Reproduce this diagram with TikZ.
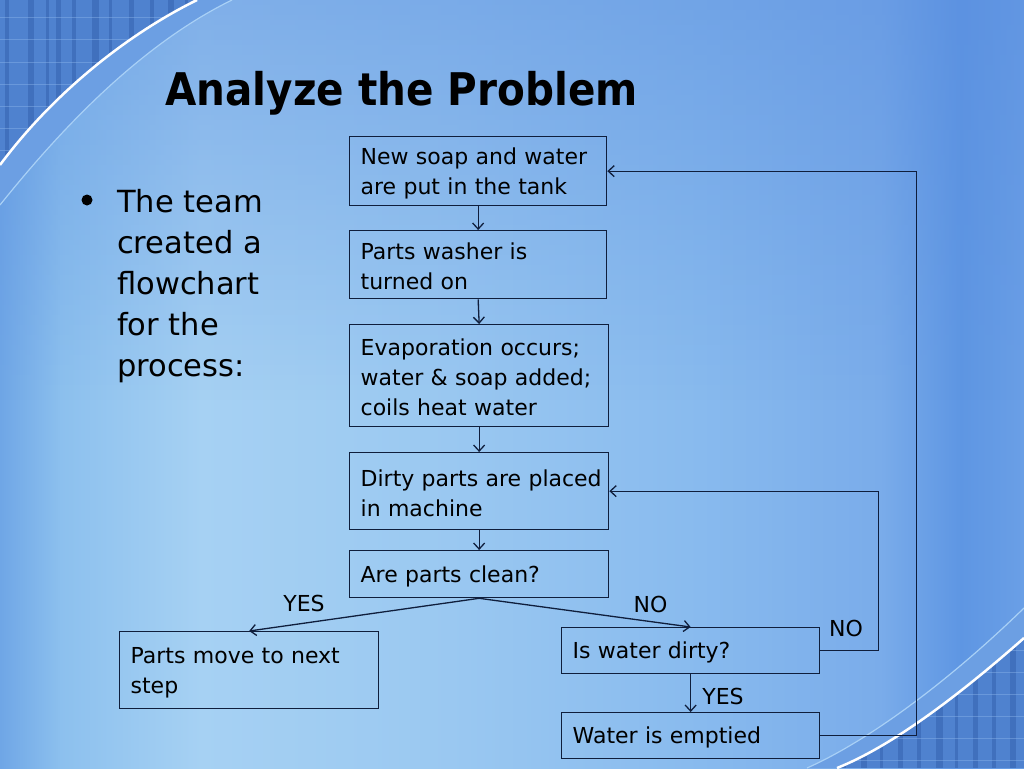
\documentclass[tikz,border=0pt]{standalone}
\usepackage{fontspec}
\usepackage{graphicx}
\setmainfont{DejaVu Sans}
\usetikzlibrary{arrows.meta,calc}
\definecolor{linec}{HTML}{0F1E3C}
\definecolor{g0}{HTML}{6FA6E6}
\definecolor{g1}{HTML}{8CC0EE}
\definecolor{g2}{HTML}{A6D1F3}
\definecolor{g3}{HTML}{9AC8F1}
\definecolor{g4}{HTML}{88BAEE}
\definecolor{g5}{HTML}{7AACEA}
\definecolor{g6}{HTML}{5E96E3}
\definecolor{g7}{HTML}{6A9FE6}
\definecolor{topdark}{HTML}{5A8EDF}
\definecolor{decobase}{HTML}{4F82CF}
\definecolor{stripec}{HTML}{2F5CA8}
\definecolor{gridc}{HTML}{8AB4EA}
\definecolor{bandc}{HTML}{6C9FE3}
\definecolor{edgec}{HTML}{A8D0F6}
\tikzset{
  box/.style={draw=linec, line width=1.3pt, rectangle, inner xsep=11pt, inner ysep=0pt,
    align=left, anchor=north west, font=\fontsize{22}{30}\selectfont, text=black,
    execute at begin node={\rule{0pt}{21pt}}},
  arr/.style={draw=linec, line width=1.3pt, -{Straight Barb[length=6pt,width=11pt]}},
  lbl/.style={font=\fontsize{22}{26}\selectfont, inner sep=0pt, text=black},
}
\begin{document}
\begin{tikzpicture}[x=1pt,y=-1pt]
\useasboundingbox (0,0) rectangle (1024,768);
% background
\shade[left color=g0, right color=g1] (0,0) rectangle (61,768);
\shade[left color=g1, right color=g2] (60,0) rectangle (201,768);
\shade[left color=g2, right color=g3] (200,0) rectangle (451,768);
\shade[left color=g3, right color=g4] (450,0) rectangle (701,768);
\shade[left color=g4, right color=g5] (700,0) rectangle (881,768);
\shade[left color=g5, right color=g6] (880,0) rectangle (961,768);
\shade[left color=g6, right color=g7] (960,0) rectangle (1024,768);
\foreach \i in {0,...,79} {
  \pgfmathsetmacro\op{0.5*(1-(\i+0.5)/80)}
  \fill[topdark, fill opacity=\op] (0,5*\i) rectangle (1024,5*\i+5);
}
% top-left decoration
\fill[bandc] (0,165) .. controls (48,100) and (120,38) .. (197,0) -- (232,0) .. controls (140,45) and (60,130) .. (0,205) -- cycle;
\begin{scope}
\clip (0,0) -- (197,0) .. controls (120,38) and (48,100) .. (0,165) -- cycle;
\fill[decobase] (0,0) rectangle (240,240);
\foreach \x/\w in {5/4,28/6,46/3,56/5,72/4,92/7,109/3,129/5,150/4,168/6,185/3}
  \fill[stripec, opacity=0.45] (\x,0) rectangle ++(\w,240);
\foreach \y in {18,40,62,84,106,128,150}
  \draw[gridc, opacity=0.45, line width=1pt] (0,\y) -- (240,\y);
\end{scope}
\draw[white, line width=2.5pt] (0,165) .. controls (48,100) and (120,38) .. (197,0);
\draw[edgec, line width=1.2pt] (0,205) .. controls (60,130) and (140,45) .. (232,0);
% bottom-right decoration
\fill[bandc] (807,768) .. controls (870,740) and (950,680) .. (1024,608) -- (1024,638) .. controls (965,690) and (895,745) .. (837,768) -- cycle;
\begin{scope}
\clip (837,768) .. controls (895,745) and (965,690) .. (1024,638) -- (1024,768) -- cycle;
\fill[decobase] (800,600) rectangle (1024,768);
\foreach \x/\w in {842/4,861/6,880/3,898/5,917/4,936/7,955/3,973/5,992/4,1010/6}
  \fill[stripec, opacity=0.45] (\x,600) rectangle ++(\w,168);
\foreach \y in {650,672,694,716,738,760}
  \draw[gridc, opacity=0.45, line width=1pt] (800,\y) -- (1024,\y);
\end{scope}
\draw[white, line width=2.5pt] (837,768) .. controls (895,745) and (965,690) .. (1024,638);
\draw[edgec, line width=1.2pt] (807,768) .. controls (870,740) and (950,680) .. (1024,608);
% title
\node[anchor=base west, inner sep=0pt, text=black] (title) at (165,105)
  {\scalebox{0.9}[1]{\fontsize{45}{50}\selectfont\bfseries Analyze the Problem}};
% bullet
\fill[black] (87,200) circle (5.5);
\node[anchor=north west, inner sep=0pt, align=left, text=black,
  font=\fontsize{30.5}{41}\selectfont] (bullet) at (117,189)
  {The team\\created a\\flowchart\\for the\\process:};
% boxes
\node[box, text width=235pt, minimum height=69pt] (b1) at (349,136) {New soap and water\\are put in the tank};
\node[box, text width=235pt, minimum height=68pt] (b2) at (349,230) {Parts washer is\\turned on};
\node[box, text width=237pt, minimum height=102pt] (b3) at (349,324) {Evaporation occurs;\\water \& soap added;\\coils heat water};
\node[box, text width=237pt, minimum height=77pt] (b4) at (349,452) {\mbox{Dirty parts are placed}\\in machine};
\node[box, text width=237pt, minimum height=47pt] (b5) at (349,550) {Are parts clean?};
\node[box, text width=237pt, minimum height=77pt] (b6) at (119,631) {Parts move to next\\step};
\node[box, text width=236pt, minimum height=46pt] (b7) at (561,627) {Is water dirty?};
\node[box, text width=236pt, minimum height=46pt] (b8) at (561,712) {Water is emptied};
% connectors
\draw[arr] (b1.south) -- (b2.north);
\draw[arr] (b2.south) -- (b3.north);
\draw[arr] (b3.south) -- (b4.north);
\draw[arr] (b4.south) -- (b5.north);
\draw[arr] (b5.south) -- (b6.north);
\draw[arr] (b5.south) -- (b7.north);
\draw[arr] (b7.south) -- (b8.north);
\draw[arr] (b7.east) -- ++(58,0) |- (b4.east);
\draw[arr] (b8.east) -- ++(96,0) |- (b1.east);
% labels
\node[lbl] (yes1) at (304,603) {YES};
\node[lbl] (no1) at (650.5,604) {NO};
\node[lbl] (no2) at (846,628.5) {NO};
\node[lbl] (yes2) at (723,696) {YES};
\end{tikzpicture}
\end{document}
